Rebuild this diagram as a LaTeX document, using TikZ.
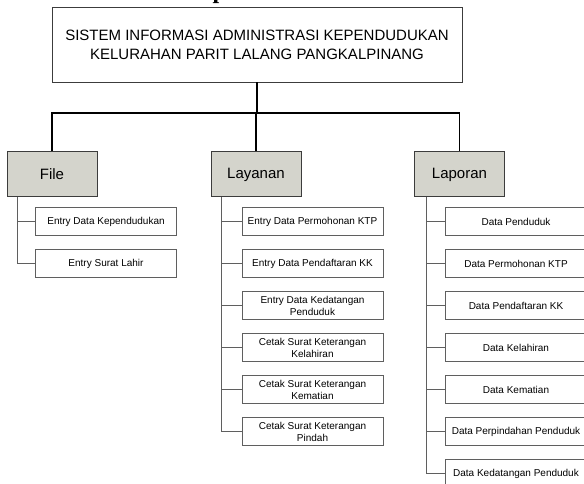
\documentclass[tikz,border=0pt]{standalone}
\usepackage{fontspec}
\setmainfont{Liberation Sans}
\newfontfamily\titlefont{Liberation Serif}
\usepackage{tikz}
\usetikzlibrary{positioning}
\definecolor{sibox}{RGB}{212,212,204}
\definecolor{siedge}{RGB}{60,60,60}
\definecolor{sisub}{RGB}{95,95,95}
\tikzstyle{connector} = [line width=1.3pt,color=black]
\tikzstyle{branch} = [line width=0.9pt,color=sisub]
\tikzstyle{root} = [rectangle, draw=siedge, fill=white, line width=0.8pt, inner sep=0pt, minimum width=410pt, minimum height=74.5pt, align=center, font=\fontsize{15}{19}\selectfont]
\tikzstyle{menu} = [rectangle, draw=siedge, fill=sibox, line width=1pt, inner sep=0pt, minimum width=90pt, minimum height=45pt, font=\fontsize{15}{18}\selectfont]
\tikzstyle{submenu} = [rectangle, draw=sisub, fill=white, line width=0.9pt, inner sep=0pt, minimum width=141pt, minimum height=28pt, align=center, font=\fontsize{10}{12}\selectfont, node distance=42pt]

\begin{document}
\begin{tikzpicture}[x=1pt,y=-1pt]
\useasboundingbox (0,0) rectangle (584,484);
\clip (0,0) rectangle (584,484);

% Title cut off at the top
\node (cut) [anchor=base west, inner sep=0pt, font=\titlefont\bfseries\fontsize{24}{24}\selectfont] at (212.5,-1) {p};

% Root
\node (root) [root] at (257,44.75) {SISTEM INFORMASI ADMINISTRASI KEPENDUDUKAN\\KELURAHAN PARIT LALANG PANGKALPINANG};

% Main menus
\node (file) [menu] at (52,174.5) {File};
\node (layanan) [menu] at (256,174.5) {Layanan};
\node (laporan) [menu] at (459.5,174.5) {Laporan};

% File
\node (f1) [submenu] at (106,221.5) {Entry Data Kependudukan};
\node (f2) [submenu, below of=f1] {Entry Surat Lahir};

% Layanan
\node (l1) [submenu] at (312.5,221.5) {Entry Data Permohonan KTP};
\node (l2) [submenu, below of=l1] {Entry Data Pendaftaran KK};
\node (l3) [submenu, below of=l2] {Entry Data Kedatangan\\Penduduk};
\node (l4) [submenu, below of=l3] {Cetak Surat Keterangan\\Kelahiran};
\node (l5) [submenu, below of=l4] {Cetak Surat Keterangan\\Kematian};
\node (l6) [submenu, below of=l5] {Cetak Surat Keterangan\\Pindah};

% Laporan
\node (r1) [submenu] at (516,221.5) {Data Penduduk};
\node (r2) [submenu, below of=r1] {Data Permohonan KTP};
\node (r3) [submenu, below of=r2] {Data Pendaftaran KK};
\node (r4) [submenu, below of=r3] {Data Kelahiran};
\node (r5) [submenu, below of=r4] {Data Kematian};
\node (r6) [submenu, below of=r5] {Data Perpindahan Penduduk};
\node (r7) [submenu, below of=r6] {Data Kedatangan Penduduk};

% Bus
\coordinate (bus) at (257,113);
\draw[connector] (root.south) -- (bus);
\draw[connector] (file.north) |- (bus) -| (laporan.north);
\draw[connector] (bus -| layanan.north) -- (layanan.north);

% Branches
\coordinate (ft) at ([xshift=11pt]file.south west);
\coordinate (lt) at ([xshift=11pt]layanan.south west);
\coordinate (rt) at ([xshift=12pt]laporan.south west);
\draw[branch] (ft) |- (f2.west);
\draw[branch] (ft |- f1.west) -- (f1.west);
\draw[branch] (lt) |- (l6.west);
\draw[branch] (lt |- l1.west) -- (l1.west);
\draw[branch] (lt |- l2.west) -- (l2.west);
\draw[branch] (lt |- l3.west) -- (l3.west);
\draw[branch] (lt |- l4.west) -- (l4.west);
\draw[branch] (lt |- l5.west) -- (l5.west);
\draw[branch] (rt) |- (r7.west);
\draw[branch] (rt |- r1.west) -- (r1.west);
\draw[branch] (rt |- r2.west) -- (r2.west);
\draw[branch] (rt |- r3.west) -- (r3.west);
\draw[branch] (rt |- r4.west) -- (r4.west);
\draw[branch] (rt |- r5.west) -- (r5.west);
\draw[branch] (rt |- r6.west) -- (r6.west);
\end{tikzpicture}
\end{document}
